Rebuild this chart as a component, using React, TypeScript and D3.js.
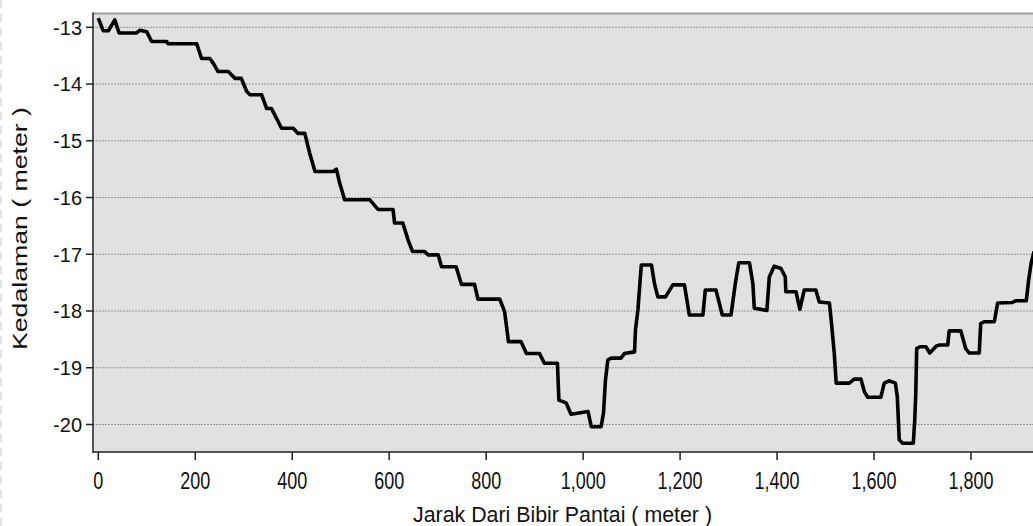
import React from "react";
import * as d3 from "d3";

const distance = [
  0, 10, 21, 34, 43, 79, 86, 100, 110, 141, 144, 203, 213, 230, 237, 247, 268, 282, 295, 306,
  313, 337, 347, 357, 378, 402, 412, 426, 436, 447, 484, 491, 498, 508, 560, 577, 608, 611, 628, 639,
  648, 673, 680, 701, 708, 738, 749, 776, 783, 828, 838, 846, 872, 883, 910, 920, 947, 950, 965, 975,
  1010, 1017, 1037, 1042, 1046, 1051, 1058, 1078, 1085, 1106, 1108, 1113, 1116, 1120, 1141, 1147, 1154, 1170, 1185, 1209,
  1219, 1247, 1252, 1274, 1287, 1305, 1314, 1321, 1343, 1350, 1353, 1379, 1384, 1394, 1408, 1417, 1418, 1439, 1447, 1456,
  1480, 1487, 1508, 1513, 1518, 1522, 1549, 1559, 1573, 1580, 1587, 1614, 1621, 1631, 1644, 1648, 1652, 1659, 1681, 1684,
  1686, 1688, 1695, 1707, 1715, 1728, 1734, 1752, 1755, 1779, 1789, 1796, 1817, 1820, 1827, 1848, 1855, 1885, 1892, 1914,
  1919, 1924, 1930,
];
const depth = [
  -12.84, -13.06, -13.06, -12.87, -13.1, -13.1, -13.05, -13.08, -13.25, -13.25, -13.29, -13.29, -13.55, -13.55, -13.63, -13.78, -13.78, -13.9, -13.9, -14.13,
  -14.19, -14.19, -14.43, -14.43, -14.78, -14.78, -14.87, -14.87, -15.22, -15.54, -15.54, -15.5, -15.75, -16.04, -16.04, -16.21, -16.21, -16.45, -16.45, -16.75,
  -16.95, -16.95, -17.01, -17.01, -17.22, -17.22, -17.53, -17.53, -17.79, -17.79, -18.01, -18.54, -18.54, -18.75, -18.75, -18.92, -18.92, -19.57, -19.62, -19.82,
  -19.77, -20.04, -20.04, -19.8, -19.22, -18.86, -18.83, -18.83, -18.75, -18.72, -18.33, -17.98, -17.63, -17.19, -17.19, -17.51, -17.75, -17.75, -17.54, -17.54,
  -18.07, -18.07, -17.63, -17.63, -18.07, -18.07, -17.51, -17.15, -17.15, -17.51, -17.95, -17.99, -17.4, -17.21, -17.25, -17.4, -17.66, -17.66, -17.97, -17.63,
  -17.63, -17.84, -17.86, -18.28, -18.75, -19.27, -19.27, -19.2, -19.2, -19.42, -19.52, -19.52, -19.27, -19.23, -19.27, -19.51, -20.27, -20.33, -20.33, -19.92,
  -19.48, -18.66, -18.63, -18.63, -18.74, -18.62, -18.6, -18.6, -18.35, -18.35, -18.66, -18.74, -18.74, -18.22, -18.19, -18.19, -17.86, -17.85, -17.82, -17.82,
  -17.45, -17.16, -16.95,
];
const xTicks = [0, 200, 400, 600, 800, 1000, 1200, 1400, 1600, 1800];
const yTicks = [-13, -14, -15, -16, -17, -18, -19, -20];
const xTitle = "Jarak Dari Bibir Pantai ( meter )";
const yTitle = "Kedalaman ( meter )";

export default function App() {
  const W = 1033;
  const H = 526;
  const x = d3.scaleLinear().domain([0, 1800]).range([98.3, 971]);
  const y = d3.scaleLinear().domain([-13, -20]).range([27.3, 424.5]);
  const left = 93;
  const right = 1034;
  const top = 13.5;
  const bottom = 452;
  const pts: [number, number][] = distance.map((d, i) => [d, depth[i]]);
  const line = d3
    .line<[number, number]>()
    .x((d) => x(d[0]))
    .y((d) => y(d[1]));
  const fmt = d3.format(",");
  const font = "'Liberation Sans', Arial, sans-serif";

  return (
    <svg
      width={W}
      height={H}
      style={{ position: "absolute", left: 0, top: 0, background: "#fff" }}
      fontFamily={font}
    >
      <defs>
        <clipPath id="plotclip">
          <rect x={left} y={top} width={right - left} height={bottom - top} />
        </clipPath>
      </defs>
      <line x1={1} x2={1} y1={0} y2={H} stroke="#c8c8c8" strokeDasharray="8 6" />
      <rect x={left} y={top} width={right - left} height={bottom - top} fill="#e1e1e1" />
      {yTicks.map((t) => (
        <line
          key={"g" + t}
          x1={left}
          x2={right}
          y1={y(t)}
          y2={y(t)}
          stroke="#999"
          strokeWidth={1}
          strokeDasharray="2 1"
        />
      ))}
      <line x1={left} x2={right} y1={top} y2={top} stroke="#a0a0a0" strokeWidth={2} />
      <g clipPath="url(#plotclip)">
        <path d={line(pts) || ""} fill="none" stroke="#000" strokeWidth={3.6} strokeLinejoin="round" />
      </g>
      <line x1={left} x2={left} y1={top - 1} y2={bottom + 1} stroke="#222" strokeWidth={1.5} />
      <line x1={left} x2={right} y1={bottom} y2={bottom} stroke="#222" strokeWidth={1.5} />
      {yTicks.map((t) => (
        <g key={"y" + t}>
          <line x1={left - 7} x2={left} y1={y(t)} y2={y(t)} stroke="#222" strokeWidth={1.5} />
          <text x={left - 11} y={y(t) + 7.3} textAnchor="end" fontSize={20} fill="#111">
            {t}
          </text>
        </g>
      ))}
      {xTicks.map((t) => (
        <g key={"x" + t}>
          <line x1={x(t)} x2={x(t)} y1={bottom} y2={bottom + 8} stroke="#222" strokeWidth={1.5} />
          <text
            transform={`translate(${x(t)},489) scale(1,1.36)`}
            textAnchor="middle"
            fontSize={18}
            fill="#111"
          >
            {fmt(t)}
          </text>
        </g>
      ))}
      <text
        x={562.5}
        y={521.5}
        textAnchor="middle"
        fontSize={22}
        textLength={299}
        lengthAdjust="spacingAndGlyphs"
        fill="#111"
      >
        {xTitle}
      </text>
      <text
        transform="translate(27,228.5) rotate(-90)"
        textAnchor="middle"
        fontSize={21}
        textLength={243}
        lengthAdjust="spacingAndGlyphs"
        fill="#111"
      >
        {yTitle}
      </text>
    </svg>
  );
}
